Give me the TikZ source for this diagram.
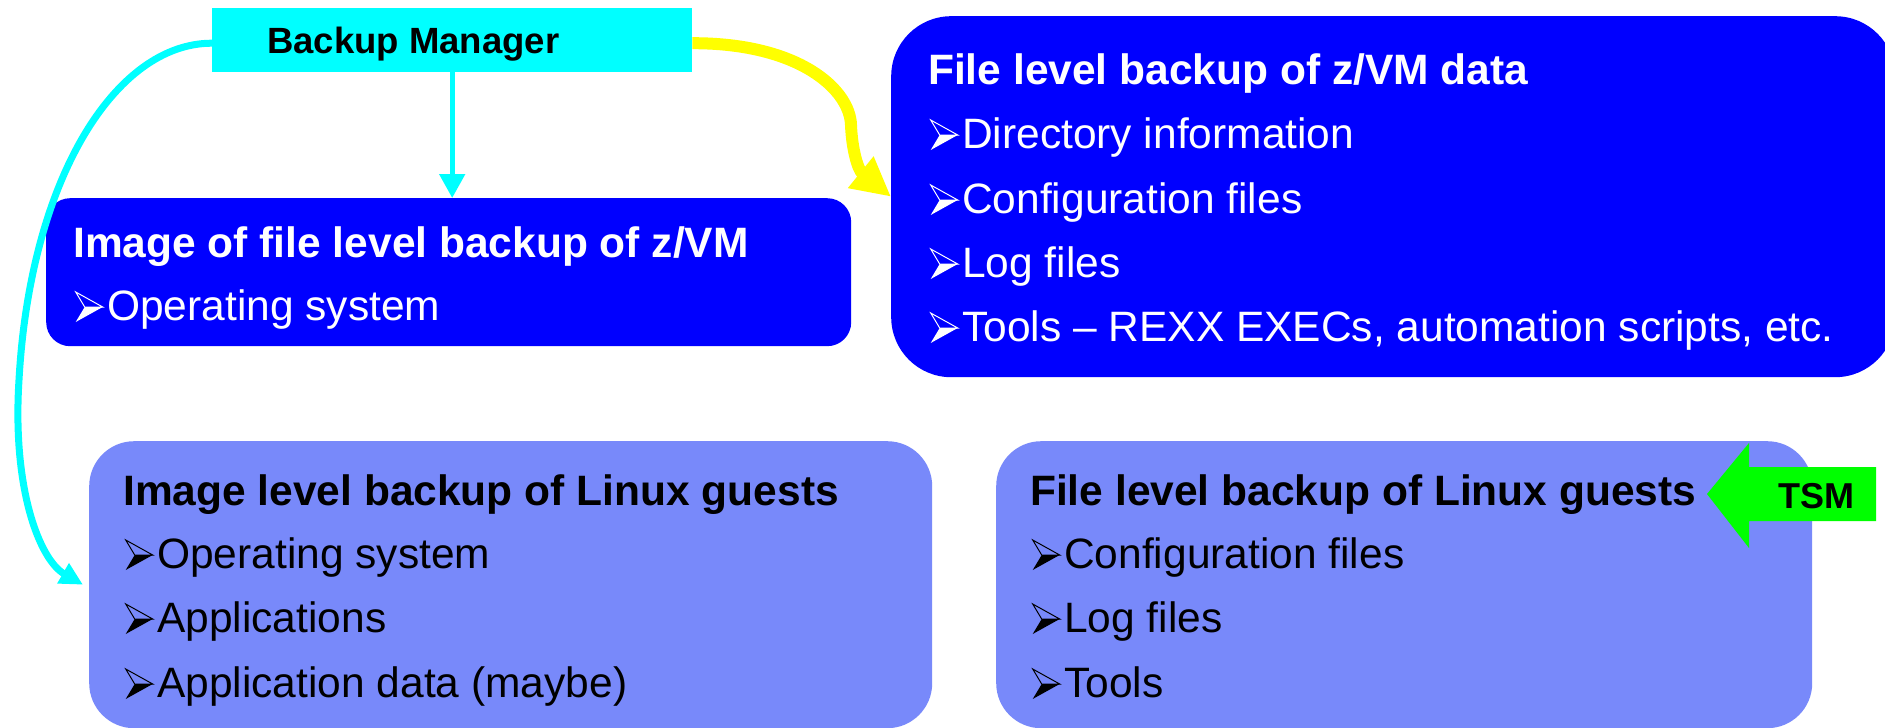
\documentclass[tikz,border=0pt]{standalone}
\usepackage{fontspec}
\setmainfont{Liberation Sans}
\usetikzlibrary{arrows.meta}
\definecolor{bmcyan}{RGB}{0,255,255}
\definecolor{boxblue}{RGB}{0,0,255}
\definecolor{lav}{RGB}{120,137,250}
\definecolor{tsmgreen}{RGB}{0,255,0}
\definecolor{arrowyellow}{RGB}{255,255,0}
\newcommand\bul{\makebox[32pt][l]{\tikz[baseline=0pt,x=1pt,y=1pt]{%
  \draw[line width=1pt,line join=miter] (0,28)--(27,13)--(9,13)--cycle;
  \fill (9,13)--(27,13)--(0,-2)--cycle;}}}
\begin{document}
\begin{tikzpicture}[x=1pt,y=-1pt,
  box/.style={rectangle, inner sep=0pt, anchor=north west},
  ttl/.style={anchor=base west, inner sep=0pt, font=\fontsize{42.5}{50}\selectfont\bfseries},
  itm/.style={anchor=base west, inner sep=0pt, font=\fontsize{42.5}{50}\selectfont},
  conn/.style={bmcyan},
]
\useasboundingbox (0,0) rectangle (1885,728);
\fill[white] (0,0) rectangle (1885,728);
\clip (0,0) rectangle (1885,728);

% boxes
\node[box, fill=bmcyan, minimum width=480pt, minimum height=64pt] (bm) at (212,8) {};
\node[box, fill=boxblue, rounded corners=24pt, minimum width=805pt, minimum height=148pt] (ifz) at (46,198) {};
\node[box, fill=boxblue, rounded corners=60pt, minimum width=1004pt, minimum height=361pt] (fzvm) at (891,16) {};
\node[box, fill=lav, rounded corners=45pt, minimum width=843pt, minimum height=287pt] (ilg) at (89,441) {};
\node[box, fill=lav, rounded corners=45pt, minimum width=816pt, minimum height=287pt] (flg) at (996,441) {};

% connectors
\draw[conn, line width=5pt, -{Triangle[length=24pt,width=25pt]}] (bm.south) -- (bm.south |- ifz.north);
\draw[arrowyellow, line width=12pt, -{Triangle[length=39pt,width=38pt]}]
  ([yshift=-3pt]bm.east) .. controls (800,43) and (850,90) .. (851,125)
  .. controls (852,150) and (858,170) .. (fzvm.west);
\draw[conn, line width=7pt, -{Triangle[length=23pt,width=22pt]}]
  ([yshift=-3pt]bm.west) .. controls (115,43) and (30,180) .. (19,380)
  .. controls (12,490) and (40,560) .. ([xshift=-6pt]ilg.west);

% TSM arrow
\fill[tsmgreen] (1707,494) -- (1749,443) -- (1749,467) -- (1876,467) -- (1876,521) -- (1749,521) -- (1749,548) -- cycle;
\node[anchor=base west, inner sep=0pt, font=\fontsize{36}{40}\selectfont\bfseries] (tsm) at (1778,508) {TSM};

% texts
\node[anchor=base west, inner sep=0pt, font=\fontsize{36.5}{40}\selectfont\bfseries] (bmt) at (267,53) {Backup Manager};

\node[ttl, text=white] (ifz0) at (73,257) {Image of file level backup of z/VM};
\node[itm, text=white] (ifz1) at (75,320) {\bul Operating system};

\node[ttl, text=white] (fzvm0) at (928,84) {File level backup of z/VM data};
\node[itm, text=white] (fzvm1) at (930,148) {\bul Directory information};
\node[itm, text=white] (fzvm2) at (930,213) {\bul Configuration files};
\node[itm, text=white] (fzvm3) at (930,277) {\bul Log files};
\node[itm, text=white] (fzvm4) at (930,341) {\bul Tools – REXX EXECs, automation scripts, etc.};

\node[ttl] (ilg0) at (123,505) {Image level backup of Linux guests};
\node[itm] (ilg1) at (125,568) {\bul Operating system};
\node[itm] (ilg2) at (125,632) {\bul Applications};
\node[itm] (ilg3) at (125,697) {\bul Application data (maybe)};

\node[ttl] (flg0) at (1030,505) {File level backup of Linux guests};
\node[itm] (flg1) at (1032,568) {\bul Configuration files};
\node[itm] (flg2) at (1032,632) {\bul Log files};
\node[itm] (flg3) at (1032,697) {\bul Tools};
\end{tikzpicture}
\end{document}
